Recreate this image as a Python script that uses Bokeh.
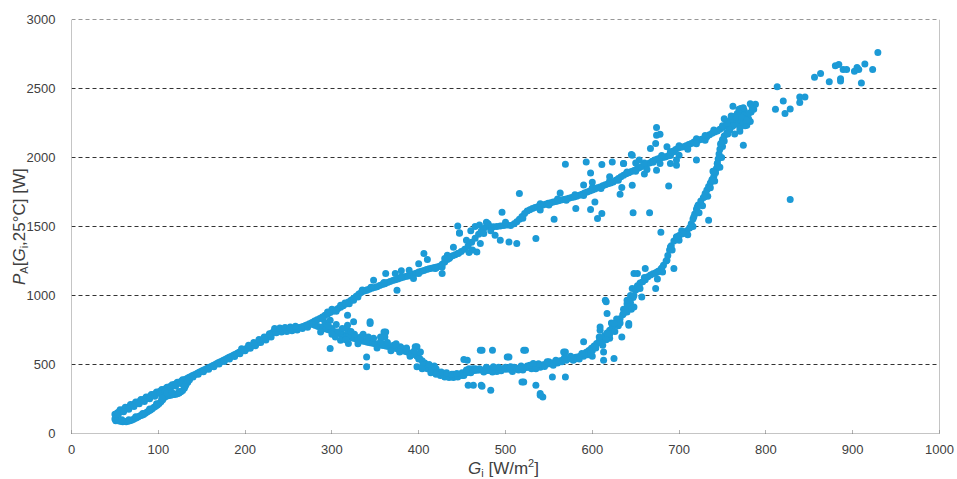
from bokeh.plotting import figure
from bokeh.models import ColumnDataSource, FixedTicker, Range1d, Span, Div
from bokeh.layouts import column
from bokeh.embed import file_html
from bokeh.resources import INLINE

# ---------------- data (G_i [W/m2], P_A [W]) ----------------
loop_upper = [(50,140),(51,125),(53,150),(55,158),(57,162),(59,170),(61,178),(63,182),(65,190),(67,196),
              (69,203),(71,208),(73,215),(75,220),(77,228),(79,233),(81,240),(83,246),(85,252),(87,258),
              (89,265),(91,270),(93,277),(95,282),(97,290),(99,295),(101,302),(103,308),(105,314),(107,320),
              (109,326),(111,332),(113,338),(115,344),(117,350),(119,356),(121,362),(123,368),(125,374),
              (127,380),(129,386),(131,392),(133,398),
              (56,172),(62,190),(68,210),(74,228),(80,246),(86,264),(92,282),(98,300),(104,318),(110,336),
              (116,354),(122,372),(128,390),(54,140),(60,158),(66,175),(72,195),(78,215),(84,232),(90,252),
              (96,270),(102,290),(108,308),(114,326),(120,344),(126,362)]

loop_lower = [(50,105),(51,92),(53,95),(55,90),(57,88),(59,86),(61,87),(63,85),(65,88),(67,92),(69,96),
              (71,102),(73,108),(75,115),(77,122),(79,128),(81,133),(83,138),(85,146),(87,155),(89,163),
              (91,170),(93,180),(95,190),(97,198),(99,207),(101,218),(103,230),(105,245),(106,256),(108,266),
              (110,272),(112,276),(114,278),(116,280),(118,282),(120,284),(122,288),(124,294),(126,302),
              (128,312),(130,328),(131,342),(132,355),(134,372),(136,390),
              (58,100),(66,100),(74,122),(82,145),(90,178),(98,215),(104,255),(110,292),(116,296),(124,305),
              (130,340)]

low_band = [(135,405),(137,412),(139,418),(141,424),(143,430),(145,437),(147,444),(149,450),(151,456),
            (153,462),(155,468),(157,474),(159,480),(161,486),(163,492),(165,498),(167,505),(169,512),
            (171,518),(173,524),(175,530),(177,537),(179,543),(181,550),(183,556),(185,562),(187,568),
            (189,575),(191,581),(193,588),(195,595),(197,602),(199,608),(201,614),(203,620),(205,626),
            (207,633),(209,640),(211,646),(213,652),(215,660),(217,668),(219,676),(221,684),(223,690),
            (225,698),(227,706),(229,716),(231,728),(233,740),(235,748),(237,750),(239,752),(241,748),
            (243,752),(245,755),(247,750),(249,754),(251,758),(253,756),(255,760),(257,762),(259,764),
            (261,766),(263,768),(265,772),(267,776),(269,780),(271,786),
            (140,410),(146,430),(152,448),(158,466),(164,484),(170,504),(176,522),(182,540),(188,558),
            (194,578),(200,600),(206,618),(212,636),(218,660),(224,678),(230,700),(236,730),(242,735),
            (248,740),(254,745),(260,750),(266,760),(272,770),(196,615),(204,640),(210,660),(216,682),
            (222,700),(228,722),(234,760),(240,765),(246,768),(252,772),(258,778)]

upper_branch = [(274,795),(277,805),(280,815),(283,824),(286,834),(289,845),(292,856),(295,866),(298,876),
                (301,886),(304,895),(307,905),(310,915),(313,925),(316,938),(319,952),(322,966),(325,980),
                (328,995),(331,1010),(334,1024),(337,1032),(340,1040),(343,1046),(346,1052),(349,1058),
                (352,1064),(355,1072),(358,1080),(361,1086),(364,1094),(367,1102),(370,1108),(373,1114),
                (376,1120),(379,1126),(382,1132),(385,1138),(388,1142),(391,1148),(394,1156),(397,1162),
                (400,1170),(403,1176),(406,1182),(409,1188),(412,1194),(415,1198),(418,1202),(421,1206),
                (424,1212),(427,1226),(430,1242),(433,1260),(436,1276),(439,1288),(442,1296),(445,1305),
                (449,1318),(453,1336),(457,1360),(461,1386),(465,1415),(469,1444),(472,1466),(475,1486),
                (478,1500),(482,1500),(486,1498),(490,1500),(494,1504),(498,1508),(502,1510),
                (506,1508),(510,1520),(513,1535),(516,1552),(519,1572),(522,1595),(525,1612),(528,1622),
                (531,1630),(534,1638),(537,1644),(540,1650),(543,1656),(546,1662),(549,1668),(552,1672),
                (555,1678),(558,1682),(561,1686),(564,1692),(567,1696),(570,1700),(573,1705),(576,1710),
                (579,1714),(582,1720),(585,1727),(588,1734),(591,1742),(594,1750),(597,1758),(600,1765),
                (603,1772),(606,1780),(609,1787),(612,1795),(615,1802),(618,1810),(621,1816),(624,1822),
                (627,1835),(630,1848),(633,1860),(636,1872),(639,1882),(642,1890),(645,1898),(648,1906),
                (651,1915),(654,1925),(657,1935),(660,1944),(663,1952),(666,1960),(669,1972),(672,1982),
                (675,1990),(678,1996),(681,2000),(684,2004),(687,2010),(690,2028),(693,2045),(696,2058),
                (699,2068),(702,2074),(705,2078),(708,2086),(711,2094),(714,2102),(717,2112),(720,2120),
                (723,2126),(726,2132),(729,2138),(732,2150),(735,2164),(738,2176),(741,2184),(744,2192),
                (747,2204),(750,2218),(753,2226),(756,2234),(759,2242),(762,2250),(765,2258),(768,2266),
                (540,1665),(560,1700),(580,1730),(600,1780),(620,1830),(640,1895),(660,1960),(680,2015),
                (700,2085),(720,2135),(740,2200),(550,1655),(570,1690),(590,1725),(610,1775),(630,1835),
                (650,1900),(670,1965),(690,2015),(710,2080),(730,2125),(300,900),(310,930),(320,940),
                (330,990),(290,830),(280,800),(295,880),(305,885),(315,945),(325,965),(335,1040),(345,1060),
                (360,1095),(380,1135),(400,1160),(420,1200)]

upper_scatter = [(348,1111),(362,1159),(373,1159),(389,1183),(394,1123),(375,1038),(340,1038),(427,1207),
                 (427,1159),(419,1195),(435,1268),(406,1304),(433,1292),(446,1306),(447,1451),(445,1504),
                 (447,1454),(430,1268),(467,1316),(471,1377),(475,1449),(488,1437),(494,1401),(504,1388),
                 (513,1377),(535,1413),(496,1604),(516,1739),(556,1553),(569,1951),(593,1968),(598,1888),
                 (611,1949),(623,1968),(636,1956),(645,2022),(634,1782),(632,1734),(646,1799),(581,1630),
                 (598,1623),(603,1678),(611,1594),(606,1558),(647,1599),(666,1599),(563,1743),(667,2065),
                 (674,2162),(674,2217),(663,1913),(674,1908),(673,2101),(678,2169),(686,2077),(694,2041),
                 (700,2017),(697,1944),(690,1957),(678,1957),(646,2017),(636,1957),(654,1981),(688,1794),
                 (679,1459),(720,1981),(734,1546),(697,1981),(690,2041),(380,1180),(400,1230),(410,1260),
                 (440,1350),(455,1400),(460,1470),(465,1500),(470,1510),(480,1520),(500,1530),(520,1560),
                 (540,1620),(590,1800),(600,1820),(620,1860),(650,1960),(660,1880),(710,2060),(730,2160),
                 (720,2100),(458,1312),(462,1330),(483,1470),(478,1530)]

lower_branch = [(278,790),(281,782),(284,776),(287,770),(290,764),(293,758),(296,752),(299,746),(302,740),
                (305,734),(308,726),(311,718),(314,712),(317,706),(320,700),(323,694),(326,688),(329,682),
                (332,676),(335,670),(338,666),(341,662),(344,658),(347,654),(350,650),(353,646),(356,642),
                (359,638),(362,634),(365,630),(368,626),(371,622),(374,616),(377,610),(380,604),(383,598),
                (386,592),(389,586),(392,580),(395,572),(398,560),(401,545),(404,528),(407,510),(410,494),
                (413,478),(416,465),(419,455),(422,446),(425,438),(428,430),(431,424),(434,420),(437,418),
                (440,416),(443,418),(446,422),(449,428),(452,434),(455,440),(458,446),(461,452),(464,456),
                (467,458),(470,460),(473,460),(476,458),(479,456),(482,456),(485,458),(488,462),(491,466),
                (494,468),(497,470),(500,466),(503,468),(506,464),(509,466),(512,470),(515,472),(518,474),
                (521,476),(524,478),(527,480),(530,482),(533,486),(536,490),(539,493),(542,496),(545,500),
                (548,503),(551,506),(554,510),(557,515),(560,522),(563,528),(566,533),(569,538),(572,542),
                (575,545),(578,548),(581,552),(584,556),(587,564),(590,575),(593,588),(596,602),(599,618),
                (602,634),(605,652),(608,668),(611,688),(614,708),(617,728),(620,748),(623,768),(626,786),
                (629,806),(632,832),(635,860),(638,888),(641,918),(644,948),(647,985),
                (300,760),(310,740),(320,715),(330,690),(340,680),(360,650),(380,620),(400,540),(420,470),
                (440,430),(460,440),(480,470),(500,480),(520,460),(540,480),(560,510),(580,540),(600,600),
                (620,720),(640,880),(450,420),(470,470),(490,450),(510,480),(530,470),(550,520),(570,530),
                (590,560),(610,660),(630,780),(645,900),(620,690),(600,560),(612,640),(628,830),
                (405,500),(410,470),(415,480),(420,440),(425,420),(430,410),(435,405),(440,405),(445,410),
                (450,440),(455,460),(412,500),(418,490),(426,445),(432,440),(438,430),(444,435),(452,420),
                (458,470),(462,470),(465,470),(475,445),(485,445),(495,455),(505,480),(515,460),(525,490),
                (535,470),(545,485),(555,495),(565,520),(575,560),(585,540),(595,570),(478,480),(492,480),
                (508,450),(518,490),(528,495),(538,505),(548,520),(558,530),(568,550),(578,530),(588,580),
                (598,590),(604,620),(608,700),(616,680),(622,800),(626,740),(632,800),(636,900),(640,940),
                (644,1000),(646,1050)]

lower_scatter = [(298,821),(318,857),(325,809),(306,736),(318,749),(333,700),(344,797),(356,664),(371,640),
                 (383,604),(394,580),(298,616),(340,555),(340,483),(360,736),(304,700),(319,652),(287,736),
                 (318,785),(310,676),(396,628),(344,809),(362,736),(361,700),(379,628),(398,628),(398,483),
                 (456,531),(463,350),(472,350),(473,604),(485,604),(483,314),(486,483),(504,555),(506,483),
                 (521,604),(521,374),(535,350),(540,290),(543,265),(532,507),(554,410),(569,410),(567,591),
                 (590,664),(598,580),(609,772),(615,966),(625,797),(625,543),(613,531),(638,893),(648,1159),
                 (471,604),(502,555),(523,604),(457,350),(473,343),(519,374),(540,277),(569,591),(613,591),
                 (617,870),(616,954),(642,797),(452,536),(609,749),(617,725),(634,700),(642,785),(636,870),
                 (292,800),(296,780),(300,720),(305,790),(312,760),(316,680),(322,740),(326,720),(330,650),
                 (336,720),(342,700),(348,690),(352,620),(356,700),(364,660),(368,600),(374,650),(378,590),
                 (386,620),(390,560),(395,600),(402,590),(404,470),(414,440),(420,430)]

rising_branch = [(648,1000),(650,1040),(652,1070),(655,1090),(658,1100),(661,1115),(664,1135),(667,1148),
                 (670,1158),(673,1165),(676,1175),(679,1190),(682,1220),(685,1250),(687,1290),(689,1330),
                 (691,1360),(694,1395),(697,1420),(700,1435),(703,1445),(706,1455),(709,1470),(712,1490),
                 (714,1520),(716,1555),(718,1590),(720,1625),(722,1655),(725,1685),(728,1710),(730,1740),
                 (732,1765),(734,1790),(736,1815),(738,1840),(740,1865),(742,1890),(743,1920),(744,1955),
                 (745,1990),(746,2025),(747,2060),(748,2095),(750,2130),(752,2155),(755,2180),(758,2200),
                 (761,2225),(764,2245),(767,2265),
                 (655,1050),(660,1130),(675,1120),(680,1200),(686,1256),(690,1352),(692,1330),(700,1400),
                 (703,1470),(710,1440),(716,1500),(723,1600),(727,1650),(733,1720),(736,1780),(741,1830),
                 (739,1900),(747,1930),(749,2000),(750,2080),(752,2120),(661,1196),(652,1159),(657,990),
                 (640,966),(648,917),(673,1050),(694,1196),(681,1171),(675,1171),(697,1425),(705,1449),
                 (713,1497),(717,1570),(721,1642),(729,1714),(738,1836),(744,1957),(748,2101)]

top_cluster = [(750,2230),(755,2260),(760,2280),(765,2300),(770,2320),(775,2340),(778,2300),(772,2260),
               (768,2240),(762,2230),(758,2200),(780,2280),(783,2330),(786,2350),(776,2230),(770,2190),
               (764,2170),(756,2170),(771,2270),(774,2250),(778,2234),(767,2319),(771,2355),(780,2319),
               (784,2367),(788,2386),(762,2372),(775,2300),(770,2210),(776,2280),(760,2300),(782,2260),
               (755,2250),(752,2280),(774,2089),(782,2390),(766,2290),(772,2290),(778,2270),(769,2350),
               (774,2360)]

high_points = [(813,2512),(820,2410),(811,2349),(822,2319),(828,2352),(839,2439),(845,2439),(839,2399),
               (856,2582),(863,2609),(873,2549),(880,2664),(884,2674),(886,2570),(886,2555),(889,2638),
               (893,2638),(902,2625),(905,2652),(907,2638),(910,2540),(914,2678),(923,2638),(929,2761),
               (828,1696)]

x_ticks = [0, 100, 200, 300, 400, 500, 600, 700, 800, 900, 1000]
y_ticks = [0, 500, 1000, 1500, 2000, 2500, 3000]

# ---------------- figure ----------------
all_pts = (loop_upper + loop_lower + low_band + upper_branch + upper_scatter +
           lower_branch + lower_scatter + rising_branch + top_cluster + high_points)
src = ColumnDataSource(dict(g=[a for a, b in all_pts], p=[b for a, b in all_pts]))

FONT = "Liberation Sans"
TXT = "#404040"
CSS_FONT = "font-family:'Liberation Sans',Arial,sans-serif;color:#404040;"

PLOT_W = 957
PLOT_H = 458
XLAB_H = 479 - PLOT_H

p = figure(width=PLOT_W, height=PLOT_H, output_backend="svg", toolbar_location=None,
           x_range=Range1d(0, 1000), y_range=Range1d(0, 3000),
           min_border_left=71, min_border_right=18, min_border_top=19, min_border_bottom=25)
p.title.visible = False
p.outline_line_color = None
p.background_fill_color = "white"
p.border_fill_color = "white"

p.scatter(x="g", y="p", source=src, size=7, fill_color="#1c9ad6", line_color=None)

p.xaxis.ticker = FixedTicker(ticks=x_ticks)
p.yaxis.ticker = FixedTicker(ticks=y_ticks)
p.xgrid.grid_line_color = None
p.ygrid.grid_line_color = "#333333"
p.ygrid.grid_line_dash = "4 3"
p.ygrid.grid_line_width = 1

for ax in (p.xaxis, p.yaxis):
    ax.axis_line_color = "#8a8a8a"
    ax.axis_line_dash = "1 1"
    ax.axis_line_width = 1
    ax.minor_tick_line_color = None
    ax.major_label_text_font = FONT
    ax.major_label_text_font_size = "13px"
    ax.major_label_text_color = TXT

p.xaxis.major_tick_in = 4
p.xaxis.major_tick_out = 0
p.xaxis.major_tick_line_color = "#666666"
p.xaxis.major_tick_line_dash = "1 1"
p.xaxis.major_label_standoff = 11
p.yaxis.major_tick_line_color = None
p.yaxis.major_label_standoff = 10

p.add_layout(Span(location=1000, dimension="height", line_color="#8a8a8a", line_width=1))
p.add_layout(Span(location=3000, dimension="width", line_color="#333333", line_width=1, line_dash="4 3"))

# ---------------- axis titles (rich text), placed in a strip under the plot ----------------
SUB = "font-size:11px;line-height:0;vertical-align:-3px;"
SUP = "font-size:11px;line-height:0;vertical-align:7px;"

titles_html = (
    f'<div style="position:relative;width:{PLOT_W}px;height:{XLAB_H}px;overflow:visible;">'
    # x title
    f'<div style="position:absolute;left:468px;top:1px;white-space:nowrap;'
    f'font-size:17px;line-height:19.5px;{CSS_FONT}">'
    f'<i>G</i><span style="{SUB}">i</span> [W/m<span style="{SUP}">2</span>]'
    f'</div>'
    # y title (rotated, reaching up beside the y axis)
    f'<div style="position:absolute;left:9.5px;top:{285 - PLOT_H}px;transform:rotate(-90deg);'
    f'transform-origin:0 0;white-space:nowrap;font-size:17px;line-height:19.5px;{CSS_FONT}">'
    f'<i>P</i><span style="{SUB}">A</span>[<i>G</i><span style="{SUB}">i</span>,25°C] [W]'
    f'</div>'
    f'</div>'
)

titles = Div(text=titles_html, width=PLOT_W, height=XLAB_H, margin=0,
             styles={"overflow": "visible"})

layout = column(p, titles, spacing=0)

open("out.html", "w").write(file_html(layout, INLINE))
